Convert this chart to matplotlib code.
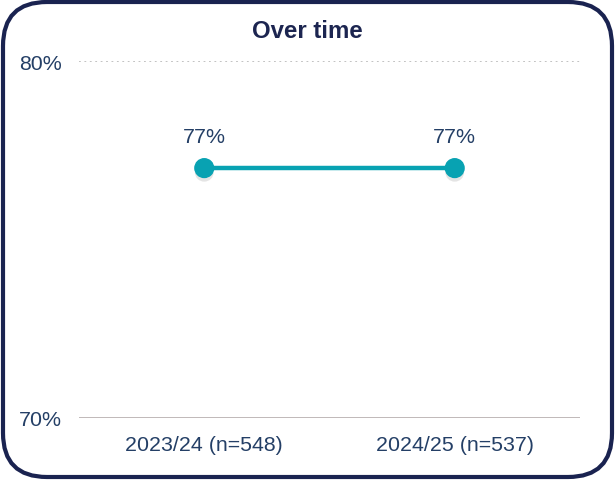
import matplotlib
matplotlib.use("Agg")
import matplotlib.pyplot as plt
from matplotlib.patches import FancyBboxPatch
import matplotlib.patheffects as pe

categories = ["2023/24 (n=548)", "2024/25 (n=537)"]
values = [77, 77]
value_labels = ["77%", "77%"]
y_ticks = [70, 80]
y_tick_labels = ["70%", "80%"]
title = "Over time"

plt.rcParams['font.family'] = ['Liberation Sans', 'DejaVu Sans']

fig = plt.figure(figsize=(6.15, 4.81), dpi=100)
ax = fig.add_axes([0.1285, 0.129, 0.8145, 0.742])

teal = "#08a2b2"
txt = "#243f66"

x = list(range(len(categories)))
ax.plot(x, values, color=teal, lw=3.2, marker='o', markersize=13.5, solid_capstyle='round',
        zorder=3,
        path_effects=[pe.SimplePatchShadow(offset=(0, -3), shadow_rgbFace='#888888', alpha=0.22),
                      pe.Normal()])
for xi, v, lab in zip(x, values, value_labels):
    ax.annotate(lab, (xi, v), xytext=(0, 22.5), textcoords='offset points',
                ha='center', va='center', fontsize=15.4, color=txt)

ax.set_xlim(-0.5, 1.5)
ax.set_ylim(70, 80)
ax.set_yticks(y_ticks)
ax.set_yticklabels(y_tick_labels)
ax.set_xticks(x)
ax.set_xticklabels(categories)
ax.tick_params(axis='both', length=0, labelsize=15.4, colors=txt)
ax.tick_params(axis='x', pad=12)
ax.tick_params(axis='y', pad=12)

for s in ['top', 'right', 'left', 'bottom']:
    ax.spines[s].set_visible(False)
ax.axhline(70, color='#bab2b2', lw=2, zorder=1)
ax.axhline(80, color='#bdbdbd', lw=1.3, ls=(0, (1, 2)), zorder=1)

fig.text(0.5, 0.934, title, ha='center', va='center', fontsize=17.3, fontweight='bold', color='#1c2550')

border = FancyBboxPatch((3, 3), 609, 475, boxstyle="round,pad=0,rounding_size=44",
                        transform=None, fill=False, edgecolor='#1a2350', lw=3)
fig.patches.append(border)

fig.savefig("out.png", dpi=100)
